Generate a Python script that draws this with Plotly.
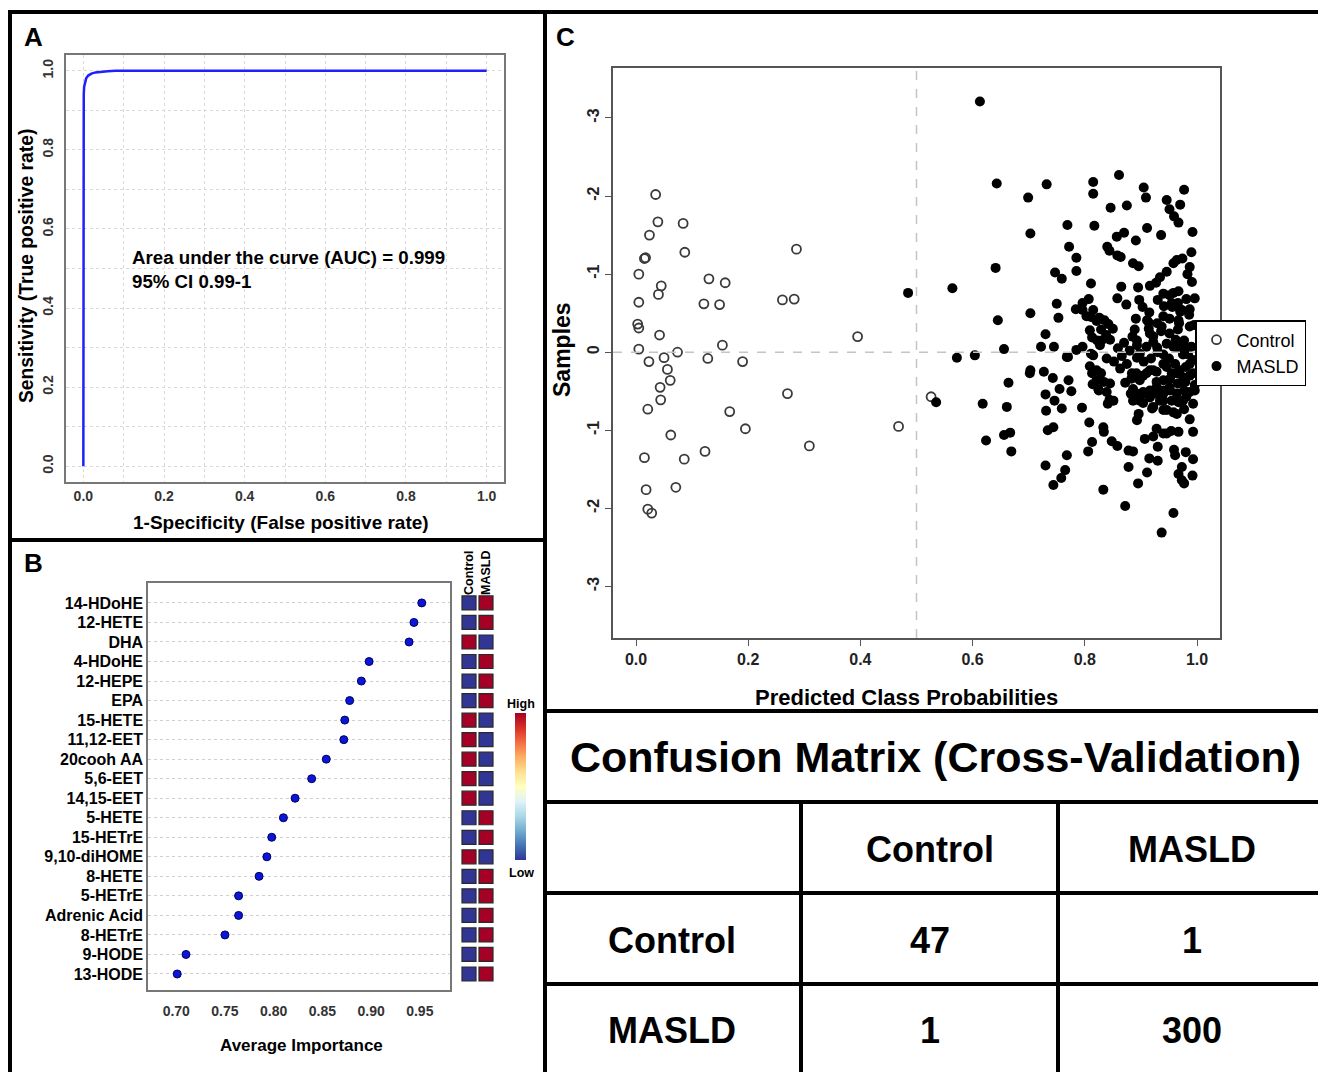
import plotly.graph_objects as go

W, H = 1318, 1072
FONT = "Liberation Sans, Arial, sans-serif"

# ---------------- Panel A: ROC ----------------
roc_fpr = [0.0, 0.0, 0.001, 0.002, 0.004, 0.007, 0.012, 0.02, 0.03, 0.045, 0.06, 0.08, 1.0]
roc_tpr = [0.0, 0.90, 0.94, 0.96, 0.972, 0.981, 0.988, 0.993, 0.996, 0.998, 0.999, 1.0, 1.0]
auc_text = "Area under the curve (AUC) = 0.999<br>95% CI 0.99-1"

# ---------------- Panel B: importance ----------------
features = ["14-HDoHE", "12-HETE", "DHA", "4-HDoHE", "12-HEPE", "EPA", "15-HETE",
            "11,12-EET", "20cooh AA", "5,6-EET", "14,15-EET", "5-HETE", "15-HETrE",
            "9,10-diHOME", "8-HETE", "5-HETrE", "Adrenic Acid", "8-HETrE", "9-HODE", "13-HODE"]
importance = [0.952, 0.944, 0.939, 0.898, 0.890, 0.878, 0.873, 0.872, 0.854, 0.839,
              0.822, 0.810, 0.798, 0.793, 0.785, 0.764, 0.764, 0.750, 0.710, 0.701]
control_level = [0, 0, 1, 0, 0, 0, 1, 1, 1, 1, 1, 0, 0, 1, 0, 0, 0, 0, 0, 0]
masld_level = [1, 1, 0, 1, 1, 1, 0, 0, 0, 0, 0, 1, 1, 0, 1, 1, 1, 1, 1, 1]
group_names = ["Control", "MASLD"]

# ---------------- Panel C: predicted probabilities ----------------
control_prob = [0.035, 0.039, 0.084, 0.024, 0.087, 0.017, 0.015, 0.286, 0.005, 0.130,
                0.159, 0.045, 0.040, 0.005, 0.121, 0.149, 0.261, 0.282, 0.003, 0.005,
                0.042, 0.395, 0.154, 0.005, 0.074, 0.023, 0.050, 0.128, 0.190, 0.056,
                0.061, 0.043, 0.044, 0.270, 0.021, 0.167, 0.195, 0.468, 0.062, 0.123,
                0.309, 0.015, 0.086, 0.018, 0.071, 0.021, 0.028, 0.526]
control_y = [-2.02, -1.67, -1.65, -1.50, -1.28, -1.21, -1.20, -1.32, -1.00, -0.94,
             -0.89, -0.85, -0.74, -0.64, -0.62, -0.61, -0.67, -0.68, -0.36, -0.31,
             -0.22, -0.20, -0.09, -0.04, 0.00, 0.12, 0.07, 0.08, 0.12, 0.22,
             0.36, 0.45, 0.61, 0.53, 0.73, 0.76, 0.98, 0.95, 1.06, 1.27,
             1.20, 1.35, 1.37, 1.76, 1.73, 2.01, 2.06, 0.57]

masld_prob = [
    0.613, 0.485, 0.564, 0.643, 0.641, 0.645, 0.572, 0.604, 0.656, 0.535, 0.618, 0.661, 0.664, 0.624, 0.656, 0.667, 0.669,
    0.699, 0.732, 0.703, 0.703, 0.730, 0.722, 0.745, 0.703, 0.702, 0.727, 0.743, 0.730, 0.746, 0.731, 0.759, 0.755,
    0.771, 0.776, 0.795, 0.734, 0.744, 0.730, 0.744, 0.758, 0.765, 0.768,
    0.769, 0.772, 0.785, 0.785, 0.747, 0.759, 0.750, 0.753, 0.770, 0.811,
    0.815, 0.815, 0.817, 0.861, 0.846, 0.875, 0.905, 0.909, 0.977, 0.970,
    0.946, 0.951, 0.959, 0.967, 0.936, 0.911, 0.992, 0.870, 0.857, 0.840,
    0.844, 0.858, 0.864, 0.891, 0.886, 0.896, 0.990, 0.964, 0.974, 0.958,
    0.987, 0.946, 0.983, 0.991, 0.934, 0.927, 0.916, 0.895, 0.865, 0.858,
    0.874, 0.897, 0.903, 0.915, 0.940, 0.951, 0.967, 0.981, 0.996, 0.930,
    0.941, 0.956, 0.973, 0.986, 0.987, 0.967, 0.951, 0.940, 0.929, 0.911,
    0.914, 0.891, 0.889, 0.893, 0.922, 0.936, 0.951, 0.966, 0.977, 0.990,
    0.976, 0.958, 0.946, 0.930, 0.910, 0.893, 0.859, 0.839, 0.827, 0.822,
    0.809, 0.811, 0.815, 0.826, 0.835, 0.842, 0.829, 0.838, 0.845, 0.803,
    0.796, 0.784, 0.807, 0.796, 0.796, 0.785, 0.768, 0.811, 0.809, 0.813,
    0.821, 0.814, 0.829, 0.834, 0.845, 0.825, 0.844, 0.841, 0.863, 0.872,
    0.884, 0.886, 0.882, 0.898, 0.910, 0.922, 0.916, 0.902, 0.898, 0.928,
    0.940, 0.946, 0.955, 0.961, 0.969, 0.980, 0.993, 0.993, 0.979, 0.966,
    0.951, 0.940, 0.934, 0.977, 0.996, 0.981, 0.967, 0.955, 0.946, 0.958,
    0.977, 0.993, 0.987, 0.993, 0.967, 0.954, 0.946, 0.928, 0.922, 0.907,
    0.896, 0.893, 0.920, 0.878, 0.886, 0.878, 0.915, 0.930, 0.930, 0.911,
    0.895, 0.959, 0.961, 0.980, 0.993, 0.973, 0.967, 0.973, 0.977, 0.992,
    0.872, 0.958, 0.937, 0.833, 0.808, 0.813, 0.806, 0.833, 0.834, 0.848,
    0.858,
    0.958, 0.914, 0.937, 0.968, 0.987, 0.821, 0.850, 0.813, 0.830, 0.815,
    0.885, 0.893, 0.898, 0.916, 0.922, 0.929, 0.964, 0.975, 0.975, 0.940,
    0.955, 0.966, 0.970, 0.995,
    0.821, 0.824, 0.839, 0.851, 0.883, 0.892, 0.904, 0.916, 0.928, 0.892,
    0.904, 0.928, 0.940, 0.952, 0.964, 0.987, 0.996, 0.886, 0.904, 0.916,
    0.940, 0.975, 0.922, 0.940, 0.964, 0.940, 0.940, 0.987, 0.964, 0.975,
    0.987, 0.952, 0.928,
    0.852, 0.866, 0.875, 0.870, 0.880, 0.905, 0.918, 0.950, 0.962, 0.984]
masld_y = [
    -3.21, -0.76, -0.82, -2.16, -1.08, -0.41, 0.07, 0.04, -0.04, 0.64, 0.66, 0.70, 0.39, 1.13, 1.06, 1.03, 1.27,
    -1.98, -2.15, -1.52, -0.50, -0.23, -0.07, -0.07, 0.23, 0.27, 0.25, 0.33, 0.54, 0.62, 0.75, 0.72, 0.47,
    0.36, 0.50, 0.71, 1.00, 0.96, 1.45, 1.70, 1.61, 1.51, 1.32,
    -1.63, -1.35, -1.21, -1.04, -1.02, -0.94, -0.62, -0.44, 0.06, -0.88,
    -2.18, -2.03, -1.62, -2.27, -1.85, -1.88, -2.11, -1.98, -2.08, -1.89,
    -1.95, -1.83, -1.74, -1.66, -1.50, -1.59, -1.54, -1.53, -1.48, -1.35,
    -1.30, -1.24, -1.22, -1.43, -1.14, -1.10, -1.28, -1.18, -1.20, -1.14,
    -1.09, -1.03, -1.00, -0.90, -0.96, -0.89, -0.85, -0.83, -0.84, -0.69,
    -0.61, -0.67, -0.58, -0.51, -0.75, -0.73, -0.78, -0.68, -0.69, -0.67,
    -0.59, -0.58, -0.54, -0.48, -0.33, -0.41, -0.43, -0.46, -0.37, -0.41,
    -0.30, -0.43, -0.29, -0.15, -0.20, -0.27, -0.24, -0.29, -0.15, -0.07,
    -0.06, -0.07, -0.11, 0.00, -0.07, 0.07, -0.05, 0.08, -0.09, -0.15,
    -0.28, -0.45, -0.54, -0.44, -0.41, -0.36, -0.29, -0.22, -0.16, -0.46,
    -0.54, -0.55, -0.68, -0.63, -0.07, -0.03, 0.06, 0.02, 0.18, 0.27,
    0.36, 0.41, 0.27, 0.38, 0.40, 0.49, 0.61, 0.66, 0.21, 0.39,
    0.27, 0.47, 0.53, 0.36, 0.27, 0.23, 0.49, 0.53, 0.62, 0.45,
    0.36, 0.19, 0.27, 0.15, 0.23, 0.19, 0.10, 0.27, 0.38, 0.40,
    0.45, 0.53, 0.62, 0.49, 0.49, 0.57, 0.64, 0.62, 0.74, 0.77,
    0.73, 0.66, 0.86, 1.02, 1.02, 1.01, 1.04, 0.98, 1.08, 1.11,
    0.79, 0.87, 0.72, 1.26, 1.27, 1.47, 1.36, 1.21, 1.39, 1.54,
    1.68, 1.25, 1.32, 1.28, 1.37, 1.47, 1.56, 1.64, 1.68, 1.58,
    1.97, 2.06, 2.31, 1.76, 0.90, 1.15, 1.27, 0.96, 1.02, 1.14,
    1.20,
    -0.76, -0.38, -0.33, -0.37, -0.55, -0.40, -0.30, -0.19, -0.15, 0.04,
    -0.20, -0.09, 0.02, -0.24, -0.13, -0.06, -0.06, -0.09, 0.03, 0.03,
    -0.63, -0.63, -0.52, -0.35,
    0.23, 0.47, 0.51, 0.62, 0.34, 0.27, 0.30, 0.23, 0.25, 0.53,
    0.51, 0.53, 0.49, 0.49, 0.53, 0.51, 0.42, 0.62, 0.65, 0.58,
    0.62, 0.62, 0.70, 0.74, 0.79, 1.04, 0.15, 0.15, 0.27, 0.32,
    0.30, 0.34, 0.38,
    0.12, 0.05, 0.15, -0.12, -0.02, 0.12, 0.08, 0.08, -0.16, 0.03]

y_tick_vals = [-3, -2, -1, 0, 1, 2, 3]
y_tick_text = ["-3", "-2", "-1", "0", "-1", "-2", "-3"]

# ---------------- Confusion matrix ----------------
cm_title = "Confusion Matrix (Cross-Validation)"
cm_labels = ["Control", "MASLD"]
cm_values = [[47, 1], [1, 300]]


def px(x):
    return x / W


def py(y):
    return 1 - y / H


fig = go.Figure()

# Panel A
fig.add_trace(go.Scatter(x=roc_fpr, y=roc_tpr, mode="lines",
                         line=dict(color="#1f1fff", width=2.5),
                         showlegend=False, xaxis="x", yaxis="y", hoverinfo="skip"))

# Panel B dots
rows = list(range(len(features), 0, -1))
fig.add_trace(go.Scatter(x=importance, y=rows, mode="markers",
                         marker=dict(size=8, color="#0b16d6", line=dict(width=1, color="#000060")),
                         showlegend=False, xaxis="x2", yaxis="y2"))

# Panel B heat squares
sq_x = [0] * len(features) + [1] * len(features)
sq_y = rows + rows
sq_c = control_level + masld_level
fig.add_trace(go.Scatter(
    x=sq_x, y=sq_y, mode="markers", showlegend=False, xaxis="x3", yaxis="y3",
    marker=dict(symbol="square", size=14, color=sq_c, cmin=0, cmax=1,
                colorscale="RdYlBu", reversescale=True,
                line=dict(width=1.2, color="#2a2a2a"),
                showscale=True,
                colorbar=dict(x=px(515), xanchor="left", xpad=0, thickness=11,
                              len=147 / H, lenmode="fraction", y=py(786.5), yanchor="middle",
                              ypad=0, outlinewidth=0, showticklabels=False, ticks=""))))

# Panel C
fig.add_trace(go.Scatter(x=control_prob, y=control_y, mode="markers", name="Control",
                         marker=dict(symbol="circle-open", size=9, color="#3a3a3a",
                                     line=dict(width=1.8)),
                         xaxis="x4", yaxis="y4"))
fig.add_trace(go.Scatter(x=masld_prob, y=masld_y, mode="markers", name="MASLD",
                         marker=dict(symbol="circle", size=10, color="#000000"),
                         xaxis="x4", yaxis="y4"))

tick_bold = dict(family=FONT, size=14, color="#333", weight="bold")
frame = dict(showline=True, mirror=True, linecolor="#777", linewidth=1.5, zeroline=False)

fig.update_layout(
    width=W, height=H, margin=dict(l=0, r=0, t=0, b=0),
    paper_bgcolor="white", plot_bgcolor="white",
    font=dict(family=FONT, color="black"),
    xaxis=dict(domain=[px(66), px(504)], anchor="y", range=[-0.043, 1.043],
               tickvals=[0, 0.2, 0.4, 0.6, 0.8, 1.0], tickformat=".1f",
               showgrid=True, gridcolor="#d9d9d9", griddash="dot", gridwidth=1,
               minor=dict(dtick=0.1, tick0=0, showgrid=True, gridcolor="#d9d9d9", griddash="dot"),
               ticks="", tickfont=tick_bold, **frame),
    yaxis=dict(domain=[py(482), py(55)], anchor="x", range=[-0.04, 1.04],
               tickvals=[0, 0.2, 0.4, 0.6, 0.8, 1.0], tickformat=".1f", tickangle=-90,
               showgrid=True, gridcolor="#d9d9d9", griddash="dot", gridwidth=1,
               minor=dict(dtick=0.1, tick0=0, showgrid=True, gridcolor="#d9d9d9", griddash="dot"),
               ticks="outside", ticklen=6, tickcolor="white", tickfont=tick_bold, **frame),
    xaxis2=dict(domain=[px(148), px(450)], anchor="y2", range=[0.671, 0.981],
                tickvals=[0.70, 0.75, 0.80, 0.85, 0.90, 0.95], tickformat=".2f",
                showgrid=False, ticks="outside", ticklen=7, tickcolor="white",
                tickfont=tick_bold, **frame),
    yaxis2=dict(domain=[py(990), py(583)], anchor="x2", range=[0.18, 21.02],
                tickvals=rows, ticktext=features, ticks="",
                showgrid=True, gridcolor="#cfcfcf", griddash="dot", gridwidth=1,
                tickfont=dict(family=FONT, size=16, color="black", weight="bold"), **frame),
    xaxis3=dict(domain=[px(455), px(500)], anchor="y3", range=[-0.824, 1.824], visible=False),
    yaxis3=dict(domain=[py(990), py(583)], anchor="x3", range=[0.18, 21.02], visible=False),
    xaxis4=dict(domain=[px(613), px(1220)], anchor="y4", range=[-0.041, 1.041],
                tickvals=[0, 0.2, 0.4, 0.6, 0.8, 1.0], tickformat=".1f", showgrid=False,
                ticks="outside", ticklen=6, tickcolor="#555",
                tickfont=dict(family=FONT, size=16, color="#222", weight="bold"),
                showline=True, mirror=True, linecolor="#555", linewidth=1.5, zeroline=False),
    yaxis4=dict(domain=[py(638), py(68)], anchor="x4", range=[3.66, -3.64],
                tickvals=y_tick_vals, ticktext=y_tick_text, tickangle=-90, showgrid=False,
                ticks="outside", ticklen=6, tickcolor="#555",
                tickfont=dict(family=FONT, size=16, color="#222", weight="bold"),
                showline=True, mirror=True, linecolor="#555", linewidth=1.5, zeroline=False),
    legend=dict(x=px(1195), y=py(320), xanchor="left", yanchor="top",
                bgcolor="white", bordercolor="black", borderwidth=1.5,
                font=dict(family=FONT, size=18, color="black"), itemwidth=30,
                tracegroupgap=0),
)

shapes = []
# dashed reference lines in panel C
shapes.append(dict(type="line", xref="x4", yref="y4 domain", x0=0.5, x1=0.5, y0=0, y1=1,
                   line=dict(color="#c4c4c4", width=1.5, dash="dash")))
shapes.append(dict(type="line", xref="x4 domain", yref="y4", x0=0, x1=1, y0=0, y1=0,
                   line=dict(color="#c4c4c4", width=1.5, dash="dash")))


def pline(x0, y0, x1, y1, w=4):
    shapes.append(dict(type="line", xref="paper", yref="paper",
                       x0=px(x0), y0=py(y0), x1=px(x1), y1=py(y1),
                       line=dict(color="black", width=w)))


pline(8, 12, 1318, 12)
pline(10, 10, 10, 1072)
pline(545, 10, 545, 1072)
pline(10, 540, 545, 540)
pline(545, 711, 1318, 711)
pline(545, 802, 1318, 802)
pline(545, 893, 1318, 893)
pline(545, 984, 1318, 984)
pline(801, 802, 801, 1072)
pline(1058, 802, 1058, 1072)
fig.update_layout(shapes=shapes)

ann = []


def note(x, y, text, size, bold=True, angle=0, xa="center", ya="middle", color="black", align="center"):
    ann.append(dict(x=px(x), y=py(y), xref="paper", yref="paper", text=text, showarrow=False,
                    textangle=angle, xanchor=xa, yanchor=ya, align=align,
                    font=dict(family=FONT, size=size, color=color,
                              weight="bold" if bold else "normal")))


# panel letters
note(33, 37, "A", 26)
note(33, 563, "B", 26)
note(565, 37, "C", 26)
# panel A
note(281, 522, "1-Specificity (False positive rate)", 19)
note(27, 266, "Sensitivity (True positive rate)", 19.3, angle=-90)
note(130, 245, auc_text, 18.7, xa="left", ya="top", align="left")
# panel B
note(301, 1045, "Average Importance", 17)
note(469, 597, group_names[0], 12.5, angle=-90, ya="bottom")
note(486, 597, group_names[1], 12.5, angle=-90, ya="bottom")
note(521, 704, "High", 12.5)
note(521, 873, "Low", 12.5)
# panel C
note(906, 697, "Predicted Class Probabilities", 22)
note(562, 350, "Samples", 23, angle=-90)
# confusion matrix
note(935, 757, cm_title, 43)
col_x = [930, 1192]
row_y = [940, 1030]
for j, lab in enumerate(cm_labels):
    note(col_x[j], 849, lab, 36)
for i, lab in enumerate(cm_labels):
    note(672, row_y[i], lab, 36)
    for j in range(2):
        note(col_x[j], row_y[i], str(cm_values[i][j]), 36)
fig.update_layout(annotations=ann)

fig.write_html("out.html")
